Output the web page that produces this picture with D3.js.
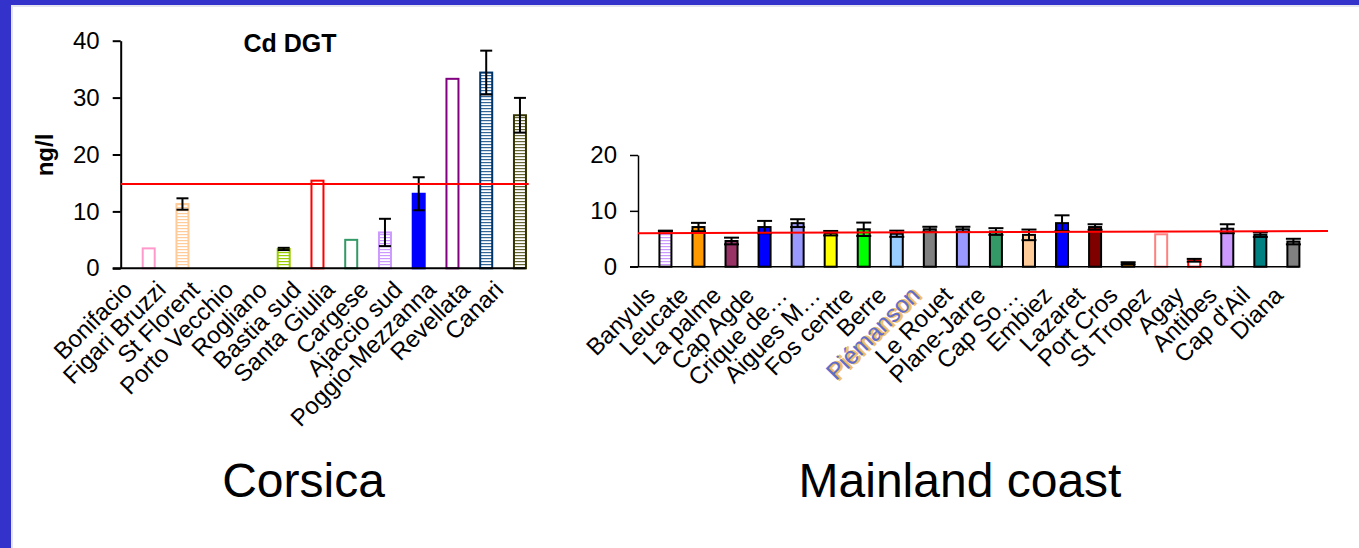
<!DOCTYPE html>
<html>
<head>
<meta charset="utf-8">
<script src="https://cdn.jsdelivr.net/npm/d3@7"></script>
<style>
  body { margin: 0; background: #fff; }
  svg { display: block; font-family: "Liberation Sans", Arial, sans-serif; }
</style>
</head>
<body>
<script>
// --- datos ---
var corsicaSites = ["Bonifacio", "Figari Bruzzi", "St Florent", "Porto Vecchio", "Rogliano", "Bastia sud", "Santa Giulia", "Cargese", "Ajaccio sud", "Poggio-Mezzanna", "Revellata", "Canari"];
var corsicaValues = [3.5, 11.3, 0, 0, 3.4, 15.4, 5.0, 6.3, 13.1, 33.3, 34.4, 26.9];
var corsicaErrors = [0, 1.0, 0, 0, 0.2, 0, 0, 2.4, 2.9, 0, 3.85, 3.05];
var corsicaThreshold = [14.8, 14.8];
var corsicaTicks = [0, 10, 20, 30, 40];

var mainlandSites = ["Banyuls", "Leucate", "La palme", "Cap Agde", "Crique de…", "Aigues M…", "Fos centre", "Berre", "Piémanson", "Le Rouet", "Plane-Jarre", "Cap So…", "Embiez", "Lazaret", "Port Cros", "St Tropez", "Agay", "Antibes", "Cap d'Ail", "Diana"];
var mainlandValues = [6.4, 7.1, 4.6, 7.1, 7.8, 6.0, 6.7, 5.9, 6.7, 6.7, 6.3, 5.7, 7.8, 7.1, 0.6, 5.8, 1.15, 6.8, 5.75, 4.5];
var mainlandErrors = [0.05, 0.75, 0.6, 1.1, 0.7, 0.4, 1.2, 0.55, 0.45, 0.45, 0.6, 0.95, 1.4, 0.5, 0.2, 0, 0.25, 0.8, 0.42, 0.5];
var mainlandThreshold = [6.0, 6.4];
var mainlandTicks = [0, 10, 20];

// --- estilos (relleno / borde) ---
var corsicaStyle = {
  "Bonifacio": { fill: "none", stroke: "#ff99cc" },
  "Figari Bruzzi": { fill: "url(#st-ffcc99)", stroke: "#ffcc99" },
  "St Florent": { fill: "none", stroke: "none" },
  "Porto Vecchio": { fill: "none", stroke: "none" },
  "Rogliano": { fill: "url(#st-99cc00)", stroke: "#99cc00" },
  "Bastia sud": { fill: "none", stroke: "#ff0000" },
  "Santa Giulia": { fill: "none", stroke: "#339966" },
  "Cargese": { fill: "url(#st-cc99ff)", stroke: "#cc99ff" },
  "Ajaccio sud": { fill: "#0000ff", stroke: "#0000ff" },
  "Poggio-Mezzanna": { fill: "none", stroke: "#800080" },
  "Revellata": { fill: "url(#st-336699)", stroke: "#003366" },
  "Canari": { fill: "url(#st-666633)", stroke: "#333300" }
};
var mainlandFill = ["url(#st-cc99ff)", "#ff9900", "#993366", "#0000ff", "#9999ff", "#ffff00", "#00ff00", "#99ccff", "#808080", "#9999ff", "#339966", "#ffcc99", "#0000ff", "#800000", "#ff9900", "#fff", "#fff", "#cc99ff", "#008080", "#808080"];
var mainlandStroke = {"St Tropez": "#ff8080", "Agay": "#ff0000"};

var W = 1359, H = 548;
var svg = d3.select("body").append("svg").attr("width", W).attr("height", H);

// patrones de rayas horizontales
var defs = svg.append("defs");
["ffcc99", "99cc00", "cc99ff", "336699", "666633"].forEach(function (c) {
  var p = defs.append("pattern").attr("id", "st-" + c).attr("patternUnits", "userSpaceOnUse")
    .attr("width", 6).attr("height", 3);
  p.append("rect").attr("width", 6).attr("height", 3).attr("fill", "#fff");
  p.append("rect").attr("y", 0).attr("width", 6).attr("height", 1.2).attr("fill", "#" + c);
});

// marco azul
svg.append("rect").attr("width", W).attr("height", H).attr("fill", "#fff");
svg.append("rect").attr("x", 0).attr("y", 0).attr("width", W).attr("height", 5).attr("fill", "#3333cc");
svg.append("rect").attr("x", 0).attr("y", 0).attr("width", 11).attr("height", H).attr("fill", "#3333cc");
svg.append("rect").attr("x", 11).attr("y", 5).attr("width", W).attr("height", 2).attr("fill", "#e4e4ee");
svg.append("rect").attr("x", 11).attr("y", 5).attr("width", 2).attr("height", H).attr("fill", "#e4e4ee");

function drawChart(opt) {
  var g = svg.append("g");
  var x = d3.scaleBand().domain(opt.sites).range(opt.xr);
  var y = d3.scaleLinear().domain([0, opt.ticks[opt.ticks.length - 1]]).range(opt.yr);
  var bw = x.bandwidth();
  var barW = 12;
  var cx = function (s) { return x(s) + bw * 0.83; };

  // barras
  g.selectAll("rect.bar").data(opt.sites).enter().append("rect").attr("class", "bar")
    .attr("x", function (s) { return cx(s) - barW / 2; })
    .attr("y", function (s, i) { return y(opt.values[i]); })
    .attr("width", barW)
    .attr("height", function (s, i) { return y(0) - y(opt.values[i]); })
    .attr("fill", opt.fill)
    .attr("stroke", opt.stroke)
    .attr("stroke-width", opt.barStroke);

  // barras de error
  var eb = g.selectAll("g.err").data(opt.sites.filter(function (s, i) { return opt.errors[i] > 0; }))
    .enter().append("g").attr("class", "err")
    .attr("stroke", "#000").attr("stroke-width", 2);
  var val = function (s) { return opt.values[opt.sites.indexOf(s)]; };
  var err = function (s) { return opt.errors[opt.sites.indexOf(s)]; };
  eb.append("line").attr("x1", cx).attr("x2", cx)
    .attr("y1", function (s) { return y(val(s) + err(s)); })
    .attr("y2", function (s) { return y(val(s) - err(s)); });
  [1, -1].forEach(function (k) {
    eb.append("line")
      .attr("x1", function (s) { return cx(s) - opt.cap / 2; })
      .attr("x2", function (s) { return cx(s) + opt.cap / 2; })
      .attr("y1", function (s) { return y(val(s) + k * err(s)); })
      .attr("y2", function (s) { return y(val(s) + k * err(s)); });
  });

  // ejes
  var ya = g.append("g").attr("transform", "translate(" + opt.xr[0] + ",0)")
    .call(d3.axisLeft(y).tickValues(opt.ticks).tickSize(8).tickSizeOuter(0).tickPadding(13));
  ya.select(".domain").attr("stroke-width", opt.axisW);
  ya.selectAll(".tick line").attr("stroke-width", opt.axisW);
  ya.selectAll("text").attr("font-size", 24).attr("font-family", "Liberation Sans, Arial, sans-serif");
  g.append("line").attr("x1", opt.xr[0] - 8).attr("x2", opt.xr[1])
    .attr("y1", y(0)).attr("y2", y(0)).attr("stroke", "#000").attr("stroke-width", opt.axisW);

  // línea de referencia roja
  g.append("line").attr("x1", opt.xr[0]).attr("x2", opt.xr[1] + opt.redExtra)
    .attr("y1", y(opt.threshold[0])).attr("y2", y(opt.threshold[1]))
    .attr("stroke", "#ff0000").attr("stroke-width", 2);

  // etiquetas
  var pos = function (s) {
    return "translate(" + (x(s) + bw / 2 + opt.labDx) + "," + (y(0) + opt.labDy) + ") rotate(-45)";
  };
  g.selectAll("text.lab").data(opt.sites).enter().append("text").attr("class", "lab")
    .attr("transform", pos)
    .attr("text-anchor", "end").attr("font-size", 24).attr("fill", "#000")
    .text(function (s) { return s; })
    .each(function (s) {
      if (s === "Piémanson") {
        // etiqueta borrosa con franjas de color
        d3.select(this).attr("fill", "#4f63d6").attr("opacity", 0.9);
        g.insert("text", "text.lab").attr("transform", pos(s) + " translate(1.5,1.5)")
          .attr("text-anchor", "end").attr("font-size", 24)
          .attr("fill", "#f2a24a").attr("stroke", "#f2c070").attr("stroke-width", 1.5)
          .text(s);
      }
    });
  return { x: x, y: y };
}

drawChart({
  sites: corsicaSites, values: corsicaValues, errors: corsicaErrors, ticks: corsicaTicks,
  threshold: corsicaThreshold, xr: [120.7, 525.7], yr: [268.3, 40.7],
  fill: function (s) { return corsicaStyle[s].fill; },
  stroke: function (s) { return corsicaStyle[s].stroke; },
  barStroke: 2, cap: 12, axisW: 2, redExtra: 3, labDx: -4, labDy: 23
});

drawChart({
  sites: mainlandSites, values: mainlandValues, errors: mainlandErrors, ticks: mainlandTicks,
  threshold: mainlandThreshold, xr: [638, 1299], yr: [266.7, 155],
  fill: function (s, i) { return mainlandFill[i]; },
  stroke: function (s) { return mainlandStroke[s] || "#000"; },
  barStroke: 2, cap: 15, axisW: 1.5, redExtra: 29, labDx: 2, labDy: 30
});

// títulos
svg.append("text").attr("x", 290).attr("y", 52).attr("text-anchor", "middle")
  .attr("font-size", 25).attr("font-weight", "bold").text("Cd DGT");
svg.append("text").attr("transform", "translate(53,155) rotate(-90)").attr("text-anchor", "middle")
  .attr("font-size", 24).attr("font-weight", "bold").text("ng/l");
svg.append("text").attr("x", 303.5).attr("y", 497).attr("text-anchor", "middle")
  .attr("font-size", 48).text("Corsica");
svg.append("text").attr("x", 960).attr("y", 497).attr("text-anchor", "middle")
  .attr("font-size", 48).text("Mainland coast");
</script>
</body>
</html>
